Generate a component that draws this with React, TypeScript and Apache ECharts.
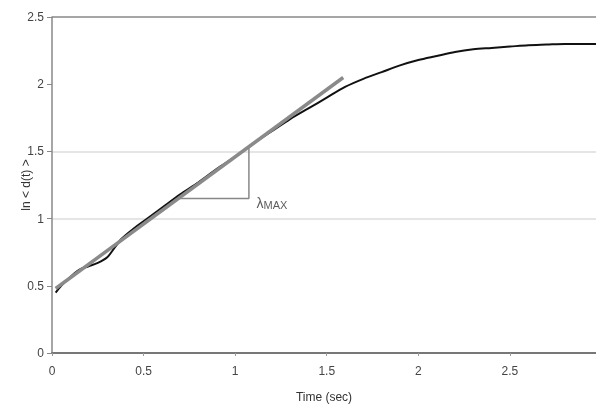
import React, { useEffect, useRef } from "react";
import * as echarts from "echarts";

const timeValues = [0.02, 0.05, 0.08, 0.12, 0.15, 0.2, 0.25, 0.3, 0.34, 0.38, 0.45, 0.5, 0.6, 0.7, 0.8, 0.9, 1.0, 1.1, 1.2, 1.3, 1.4, 1.5, 1.6, 1.7, 1.8, 1.9, 2.0, 2.1, 2.2, 2.3, 2.4, 2.5, 2.6, 2.7, 2.8, 2.9, 2.97];
const lnDistance = [0.45, 0.5, 0.54, 0.59, 0.62, 0.645, 0.67, 0.71, 0.78, 0.85, 0.93, 0.98, 1.08, 1.18, 1.27, 1.37, 1.46, 1.56, 1.65, 1.74, 1.82, 1.9, 1.98, 2.04, 2.09, 2.14, 2.18, 2.21, 2.24, 2.26, 2.27, 2.28, 2.29, 2.295, 2.3, 2.3, 2.3];
const fitLine = [[0.02, 0.48], [1.59, 2.05]];
const slopeTriangle = [[0.68, 1.15], [1.075, 1.15], [1.075, 1.535]];
const lambdaLabelAt = [1.1, 1.15];
const lightGridValues = [1, 1.5];
const topBorderValue = 2.5;

export default function App() {
  const ref = useRef<HTMLDivElement>(null);
  useEffect(() => {
    const chart = echarts.init(ref.current!, null, { renderer: "svg" });
    const font = "'Liberation Sans', Arial, sans-serif";
    chart.setOption({
      animation: false,
      grid: { left: 52, right: 0, top: 17, bottom: 56 },
      xAxis: {
        type: "value",
        min: 0,
        max: 2.97,
        interval: 0.5,
        name: "Time (sec)",
        nameLocation: "middle",
        nameGap: 38,
        nameTextStyle: { fontFamily: font, fontSize: 12, color: "#333" },
        axisLine: { show: true, lineStyle: { color: "#777", width: 2 } },
        axisTick: { show: true, length: 3, lineStyle: { color: "#999" } },
        axisLabel: { showMaxLabel: false, fontFamily: font, fontSize: 12, color: "#444", margin: 12 },
        splitLine: { show: false },
      },
      yAxis: {
        type: "value",
        min: 0,
        max: 2.5,
        interval: 0.5,
        name: "ln < d(t) >",
        nameLocation: "middle",
        nameGap: 20,
        nameMoveOverlap: false,
        nameRotate: 90,
        nameTextStyle: { fontFamily: font, fontSize: 12, color: "#333" },
        axisLine: { show: true, lineStyle: { color: "#888", width: 1.5 } },
        axisTick: { show: true, length: 5, lineStyle: { color: "#888" } },
        axisLabel: { fontFamily: font, fontSize: 12, color: "#444", margin: 8 },
        splitLine: { show: false },
      },
      series: [
        {
          type: "line",
          data: timeValues.map((t, i) => [t, lnDistance[i]]),
          showSymbol: false,
          smooth: 0.3,
          lineStyle: { color: "#111", width: 2 },
          z: 2,
          markLine: {
            silent: true,
            symbol: "none",
            label: { show: false },
            z: 0,
            data: [
              ...lightGridValues.map((v) => ({ yAxis: v, lineStyle: { color: "#ddd", width: 1.5, type: "solid" } })),
              { yAxis: topBorderValue, lineStyle: { color: "#888", width: 1.5, type: "solid" } },
            ],
          },
        },
        {
          type: "line",
          data: fitLine,
          showSymbol: false,
          lineStyle: { color: "#8a8a8a", width: 3.5 },
          z: 3,
        },
        {
          type: "line",
          data: slopeTriangle,
          showSymbol: false,
          lineStyle: { color: "#888", width: 1.5 },
          z: 1,
        },
        {
          type: "scatter",
          data: [lambdaLabelAt],
          symbolSize: 0,
          label: {
            show: true,
            position: "right",
            offset: [-2, 5],
            formatter: "{a|λ}{b|MAX}",
            rich: {
              a: { fontFamily: font, fontSize: 14, color: "#333" },
              b: { fontFamily: font, fontSize: 11, color: "#333", padding: [3, 0, 0, 0] },
            },
          },
        },
      ],
    });
    return () => chart.dispose();
  }, []);
  return <div ref={ref} style={{ position: "fixed", left: 0, top: 0, width: 596, height: 409 }} />;
}
